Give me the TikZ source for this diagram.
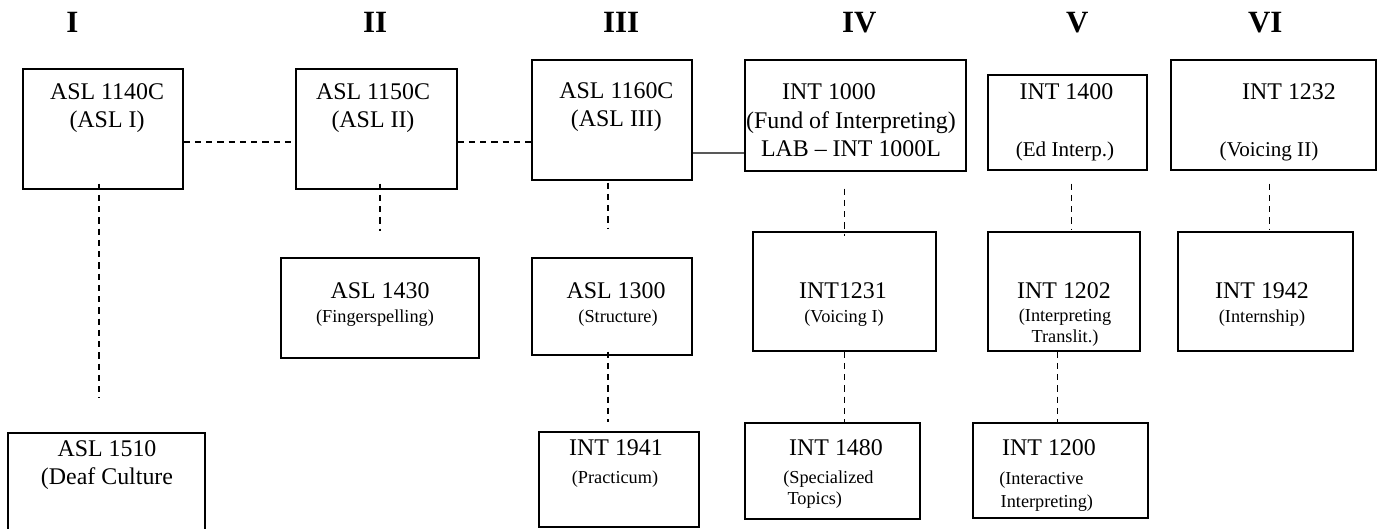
\documentclass[tikz,border=0pt]{standalone}
\usepackage{fontspec}
\setmainfont{Liberation Serif}
\tikzset{
  course/.style={draw, line width=0.9pt, inner sep=0pt},
  title/.style={anchor=base, inner sep=0pt, font=\fontsize{17}{20.3}\selectfont, align=center},
  subtitle/.style={anchor=base, inner sep=0pt, font=\fontsize{13}{15}\selectfont, align=center},
  term/.style={anchor=base, inner sep=0pt, font=\fontsize{22}{26}\selectfont\bfseries},
  dashlink/.style={line width=0.9pt, dash pattern=on 4.5pt off 3.5pt},
}
\begin{document}
\begin{tikzpicture}
\useasboundingbox (0,0) rectangle (34.475,13.225);
\clip (0,0) rectangle (34.475,13.225);

% terms
\node[term] (t1) at (1.81, 12.4) {I};
\node[term] (t2) at (9.38, 12.4) {II};
\node[term] (t3) at (15.53, 12.4) {III};
\node[term] (t4) at (21.48, 12.4) {IV};
\node[term] (t5) at (26.93, 12.4) {V};
\node[term] (t6) at (31.63, 12.4) {VI};

% top row
\node[course, minimum width=4cm, minimum height=3cm] (a) at (2.575, 10.0) {};
\node[course, minimum width=4.025cm, minimum height=3cm] (b) at (9.4125, 10.0) {};
\node[course, minimum width=4cm, minimum height=3cm] (c) at (15.3, 10.225) {};
\node[course, minimum width=5.525cm, minimum height=2.775cm] (d) at (21.3875, 10.3375) {};
\node[course, minimum width=3.975cm, minimum height=2.375cm] (e) at (26.6875, 10.1625) {};
\node[course, minimum width=5.125cm, minimum height=2.75cm] (f) at (31.8375, 10.35) {};

% multi-line texts sit on their last line
\node[title] (a1) at (2.675, 10.025) {ASL 1140C\\(ASL I)};
\node[title] (b1) at (9.325, 10.025) {ASL 1150C\\(ASL II)};
\node[title] (c1) at (15.41, 10.05) {ASL 1160C\\(ASL III)};
\node[title] (d1) at (20.725, 10.725) {INT 1000};
\node[title] (d2) at (21.275, 9.3) {(Fund of Interpreting)\\LAB -- INT 1000L};
\node[title] (e1) at (26.66, 10.725) {INT 1400};
\node[title, font=\fontsize{15}{18}\selectfont] (e2) at (26.625, 9.3) {(Ed Interp.)};
\node[title] (f1) at (32.225, 10.725) {INT 1232};
\node[title, font=\fontsize{15}{18}\selectfont] (f2) at (31.725, 9.3) {(Voicing II)};

% middle row
\node[course, minimum width=4.95cm, minimum height=2.5cm] (h) at (9.5, 5.525) {};
\node[course, minimum width=4cm, minimum height=2.425cm] (i) at (15.3, 5.5625) {};
\node[course, minimum width=4.575cm, minimum height=2.975cm] (k) at (21.1125, 5.9375) {};
\node[course, minimum width=3.8cm, minimum height=2.975cm] (m) at (26.6, 5.9375) {};
\node[course, minimum width=4.375cm, minimum height=2.975cm] (o) at (31.6375, 5.9375) {};

\node[title] (h1) at (9.5, 5.75) {ASL 1430};
\node[subtitle] (h2) at (9.375, 5.15) {(Fingerspelling)};
\node[title] (i1) at (15.4, 5.75) {ASL 1300};
\node[subtitle] (i2) at (15.45, 5.15) {(Structure)};
\node[title] (k1) at (21.075, 5.75) {INT1231};
\node[subtitle] (k2) at (21.1, 5.15) {(Voicing I)};
\node[title] (m1) at (26.6, 5.75) {INT 1202};
\node[subtitle] (m2) at (26.625, 4.65) {(Interpreting\\Translit.)};
\node[title] (o1) at (31.55, 5.75) {INT 1942};
\node[subtitle] (o2) at (31.55, 5.15) {(Internship)};

% bottom row
\node[course, minimum width=4.925cm, minimum height=3.175cm] (g) at (2.6625, 0.8125) {};
\node[course, minimum width=4cm, minimum height=2.375cm] (j) at (15.475, 1.2375) {};
\node[course, minimum width=4.375cm, minimum height=2.4cm] (l) at (20.8125, 1.45) {};
\node[course, minimum width=4.375cm, minimum height=2.375cm] (n) at (26.5125, 1.4625) {};

\node[title] (g1) at (2.675, 1.1) {ASL 1510\\(Deaf Culture};
\node[title] (j1) at (15.4, 1.825) {INT 1941};
\node[subtitle] (j2) at (15.375, 1.125) {(Practicum)};
\node[title] (l1) at (20.9, 1.825) {INT 1480};
\node[subtitle, anchor=base west, align=left, font=\fontsize{13}{15.5}\selectfont] (l2) at (19.575, 0.6) {(Specialized\\\hspace*{3pt}Topics)};
\node[title] (n1) at (26.225, 1.825) {INT 1200};
\node[subtitle, anchor=base west, align=left, font=\fontsize{13}{16.5}\selectfont] (n2) at (24.975, 0.525) {(Interactive\\\hspace*{1pt}Interpreting)};

% links
\draw[dashlink] ([yshift=-0.325cm]a.east) -- ([yshift=-0.325cm]b.west);
\draw[dashlink] ([yshift=-0.325cm]b.east) -- ([yshift=-0.55cm]c.west);
\draw[line width=0.9pt] ([yshift=-0.825cm]c.east) -- ([yshift=-0.9375cm]d.west);

\draw[dashlink, shorten <=-0.15cm, shorten >=0.875cm] ([xshift=-0.1cm]a.south) -- ([xshift=-0.1cm]a.south |- g.north);
\draw[dashlink, shorten <=-0.15cm, shorten >=0.65cm] (h.north |- b.south) -- (h.north);
\draw[dashlink, shorten <=0.05cm, shorten >=0.7cm] ([xshift=-0.1cm]c.south) -- ([xshift=-0.1cm]i.north);
\draw[dashlink, shorten <=0.425cm, shorten >=-0.125cm] (k.north |- d.south) -- (k.north);
\draw[dashlink, shorten <=0.325cm, shorten >=0.05cm] ([xshift=0.1cm]e.south) -- ([xshift=0.1cm]e.south |- m.north);
\draw[dashlink, shorten <=0.325cm, shorten >=0.05cm] ([xshift=-0.1cm]f.south) -- ([xshift=-0.1cm]f.south |- o.north);
\draw[dashlink, shorten <=-0.1cm, shorten >=0.225cm] ([xshift=-0.1cm]i.south) -- ([xshift=-0.1cm]i.south |- j.north);
\draw[dashlink] (k.south) -- (k.south |- l.north);
\draw[dashlink] ([xshift=-0.075cm]n.north |- m.south) -- ([xshift=-0.075cm]n.north);
\end{tikzpicture}
\end{document}
